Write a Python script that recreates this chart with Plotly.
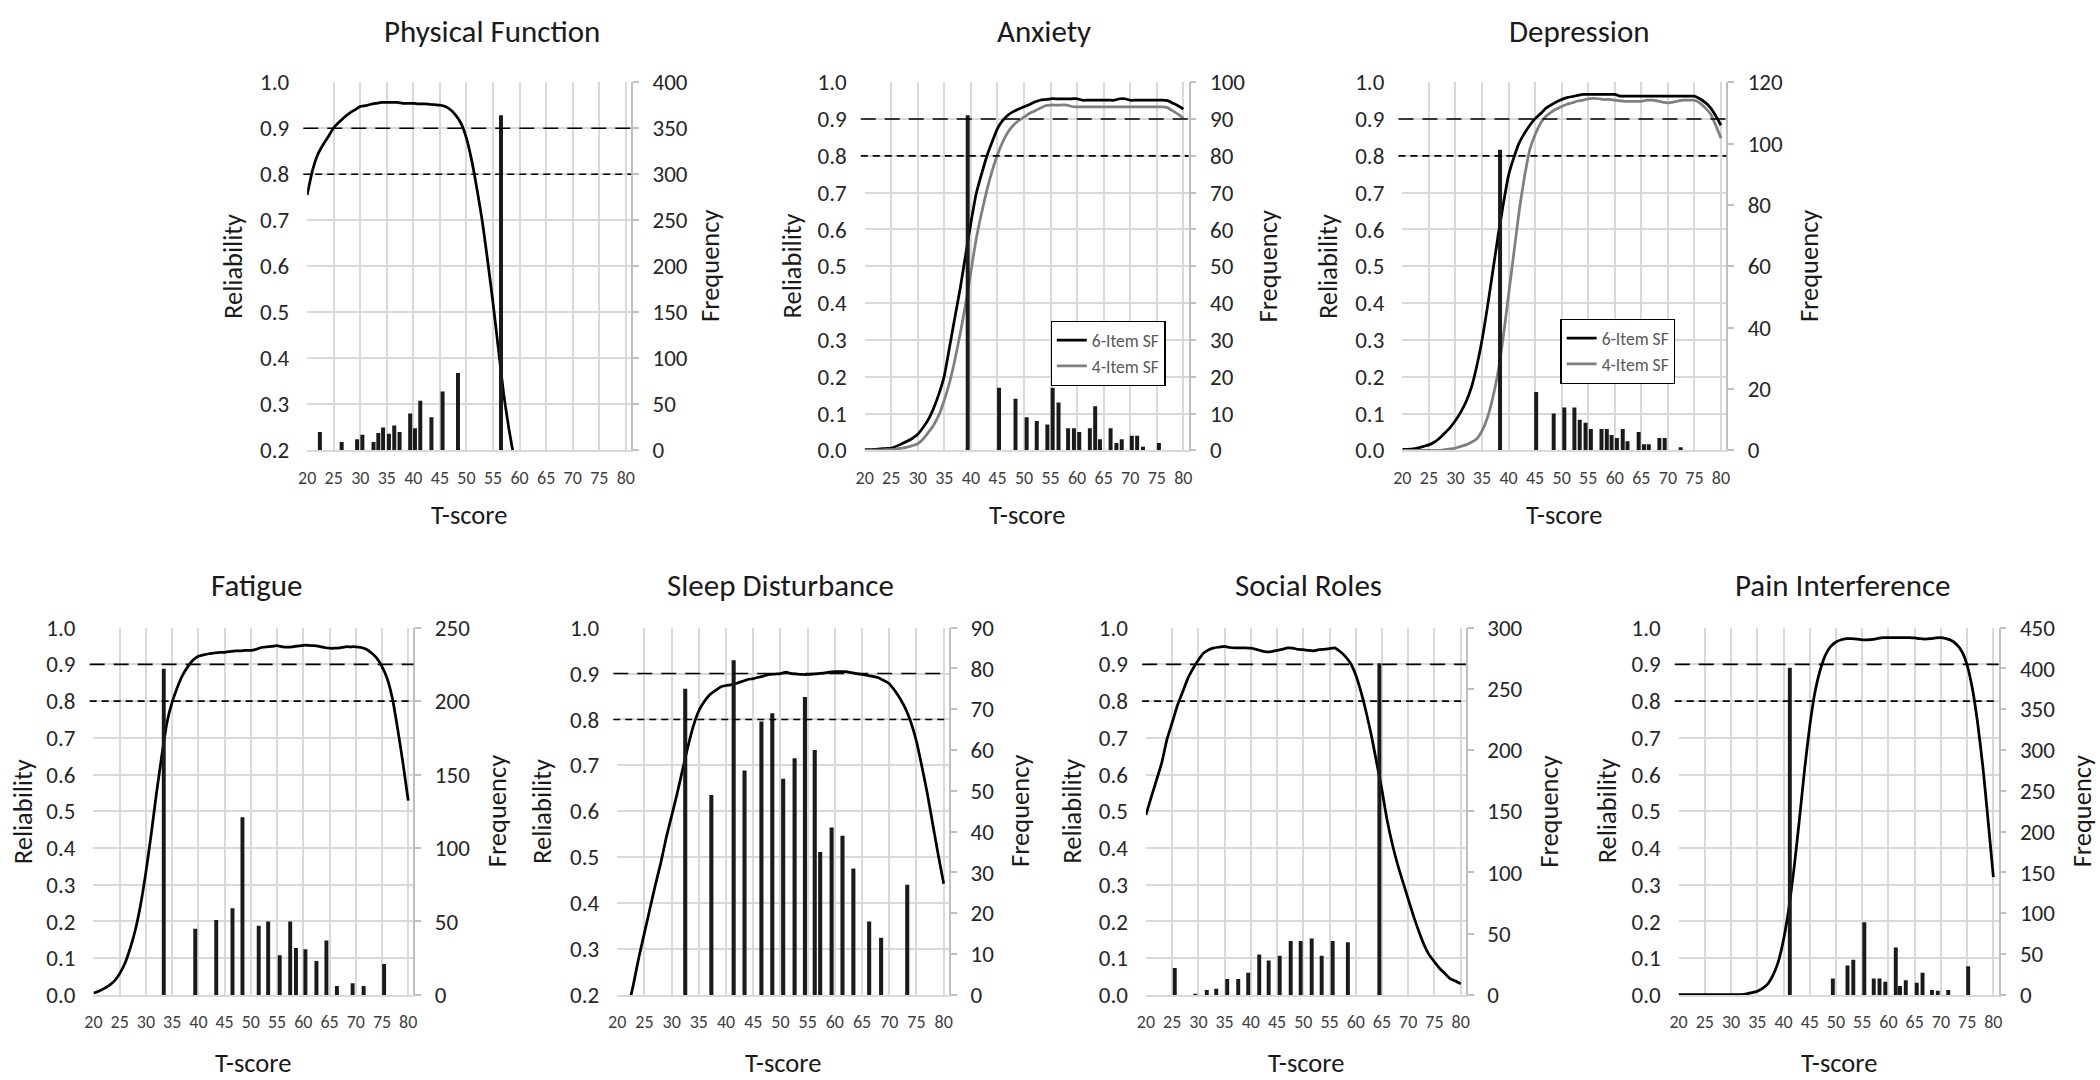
import plotly.graph_objects as go

FONT = "Carlito, Calibri, Lato, sans-serif"
W, H = 2100, 1080

# ---------------- data ----------------
T_TICKS = [20, 25, 30, 35, 40, 45, 50, 55, 60, 65, 70, 75, 80]
THRESHOLDS = [0.9, 0.8]

# Physical Function
PF_T = list(range(20, 60))
PF_REL = [0.755, 0.808, 0.843, 0.864, 0.882, 0.901, 0.913, 0.924, 0.933, 0.940,
          0.947, 0.949, 0.952, 0.954, 0.956, 0.956, 0.956, 0.956, 0.954, 0.954,
          0.954, 0.953, 0.953, 0.952, 0.951, 0.950, 0.947, 0.940, 0.928, 0.910,
          0.878, 0.829, 0.766, 0.696, 0.611, 0.520, 0.421, 0.323, 0.246, 0.180]
PF_BAR_T = [22.4, 26.5, 29.4, 30.4, 32.5, 33.4, 34.3, 35.4, 36.4, 37.4, 39.4, 40.3,
            41.3, 43.4, 45.5, 48.4, 56.5]
PF_BAR_N = [20, 9, 12, 17, 9, 19, 25, 18, 27, 20, 40, 24, 54, 36, 64, 84, 364]

# Anxiety
ANX_T = list(range(20, 81))
ANX_REL6 = [0.002, 0.002, 0.003, 0.004, 0.005, 0.006, 0.011, 0.018, 0.025, 0.033,
            0.044, 0.062, 0.084, 0.115, 0.154, 0.203, 0.282, 0.362, 0.441, 0.530,
            0.618, 0.697, 0.750, 0.799, 0.838, 0.874, 0.896, 0.911, 0.920, 0.927,
            0.933, 0.939, 0.946, 0.951, 0.953, 0.955, 0.955, 0.955, 0.955, 0.955,
            0.955, 0.951, 0.951, 0.951, 0.951, 0.951, 0.951, 0.951, 0.955, 0.955,
            0.951, 0.951, 0.951, 0.951, 0.951, 0.951, 0.951, 0.950, 0.943, 0.936,
            0.927]
ANX_REL4 = [0.000, 0.000, 0.001, 0.001, 0.002, 0.002, 0.004, 0.006, 0.009, 0.013,
            0.018, 0.031, 0.049, 0.069, 0.097, 0.137, 0.185, 0.247, 0.318, 0.397,
            0.485, 0.574, 0.644, 0.706, 0.759, 0.803, 0.838, 0.865, 0.883, 0.896,
            0.905, 0.915, 0.922, 0.929, 0.936, 0.938, 0.938, 0.938, 0.938, 0.934,
            0.933, 0.933, 0.933, 0.933, 0.933, 0.933, 0.933, 0.933, 0.933, 0.933,
            0.933, 0.933, 0.933, 0.933, 0.933, 0.933, 0.933, 0.931, 0.922, 0.913,
            0.902]
ANX_BAR_T = [39.4, 45.3, 48.4, 50.5, 52.4, 54.4, 55.4, 56.5, 58.3, 59.4, 60.4, 62.4,
             63.4, 64.3, 66.3, 67.4, 68.4, 70.3, 71.3, 72.4, 75.4]
ANX_BAR_N = [91, 17, 14, 9, 8, 7, 17, 13, 6, 6, 5, 6, 12, 3, 6, 2, 3, 4, 4, 1, 2]

# Depression
DEP_T = list(range(20, 81))
DEP_REL6 = [0.003, 0.003, 0.004, 0.007, 0.011, 0.015, 0.022, 0.033, 0.047, 0.062,
            0.081, 0.104, 0.132, 0.171, 0.228, 0.299, 0.387, 0.483, 0.580, 0.668,
            0.747, 0.795, 0.835, 0.861, 0.883, 0.901, 0.914, 0.929, 0.938, 0.946,
            0.953, 0.958, 0.961, 0.964, 0.967, 0.967, 0.967, 0.967, 0.967, 0.967,
            0.967, 0.962, 0.962, 0.962, 0.962, 0.962, 0.962, 0.962, 0.962, 0.962,
            0.962, 0.962, 0.962, 0.962, 0.962, 0.962, 0.955, 0.945, 0.931, 0.909,
            0.883]
DEP_REL4 = [0.000, 0.000, 0.000, 0.000, 0.000, 0.000, 0.000, 0.000, 0.002, 0.004,
            0.006, 0.011, 0.015, 0.022, 0.031, 0.053, 0.088, 0.141, 0.211, 0.308,
            0.422, 0.536, 0.650, 0.743, 0.817, 0.857, 0.888, 0.907, 0.918, 0.927,
            0.934, 0.940, 0.944, 0.949, 0.951, 0.955, 0.956, 0.955, 0.953, 0.953,
            0.951, 0.949, 0.948, 0.948, 0.948, 0.948, 0.951, 0.951, 0.949, 0.946,
            0.944, 0.946, 0.949, 0.951, 0.951, 0.951, 0.944, 0.931, 0.914, 0.883,
            0.848]
DEP_BAR_T = [38.4, 45.2, 48.5, 50.5, 52.4, 53.4, 54.5, 55.5, 57.5, 58.5, 59.4, 60.4,
             61.5, 62.4, 64.5, 65.5, 66.4, 68.4, 69.4, 72.4]
DEP_BAR_N = [98, 19, 12, 14, 14, 10, 9, 7, 7, 7, 5, 4, 7, 3, 6, 2, 2, 4, 4, 1]

# Fatigue
FAT_T = list(range(20, 81))
FAT_REL = [0.005, 0.010, 0.017, 0.026, 0.038, 0.058, 0.086, 0.127, 0.178, 0.247,
           0.335, 0.437, 0.548, 0.649, 0.741, 0.797, 0.838, 0.871, 0.894, 0.912,
           0.922, 0.926, 0.929, 0.931, 0.933, 0.933, 0.935, 0.937, 0.937, 0.938,
           0.938, 0.941, 0.946, 0.948, 0.949, 0.951, 0.948, 0.947, 0.948, 0.950,
           0.952, 0.952, 0.951, 0.949, 0.946, 0.944, 0.944, 0.945, 0.948, 0.948,
           0.948, 0.946, 0.941, 0.931, 0.917, 0.894, 0.861, 0.806, 0.723, 0.631,
           0.529]
FAT_BAR_T = [33.4, 39.4, 43.4, 46.5, 48.4, 51.5, 53.3, 55.5, 57.5, 58.6, 60.4, 62.5,
             64.4, 66.4, 69.4, 71.5, 75.4]
FAT_BAR_N = [222, 45, 51, 59, 121, 47, 50, 27, 50, 32, 31, 23, 37, 6, 8, 6, 21]

# Sleep Disturbance
SLP_T = list(range(22, 81))
SLP_REL = [0.170, 0.224, 0.283, 0.335, 0.387, 0.439, 0.487, 0.542, 0.590, 0.638,
           0.690, 0.741, 0.786, 0.819, 0.839, 0.854, 0.863, 0.871, 0.874, 0.876,
           0.879, 0.883, 0.887, 0.889, 0.892, 0.895, 0.898, 0.899, 0.900, 0.903,
           0.900, 0.899, 0.898, 0.898, 0.899, 0.900, 0.901, 0.903, 0.904, 0.904,
           0.904, 0.902, 0.900, 0.898, 0.896, 0.894, 0.891, 0.885, 0.878, 0.863,
           0.845, 0.823, 0.793, 0.752, 0.697, 0.638, 0.571, 0.505, 0.442]
SLP_BAR_T = [32.5, 37.3, 41.4, 43.4, 46.5, 48.5, 50.5, 52.6, 54.5, 56.3, 57.3, 59.4,
             61.4, 63.4, 66.3, 68.5, 73.3]
SLP_BAR_N = [75, 49, 82, 55, 67, 69, 53, 58, 73, 60, 35, 41, 39, 31, 18, 14, 27]

# Social Roles
SOC_T = list(range(20, 81))
SOC_REL = [0.490, 0.538, 0.584, 0.631, 0.695, 0.741, 0.788, 0.825, 0.862, 0.889,
           0.912, 0.931, 0.940, 0.945, 0.947, 0.949, 0.946, 0.945, 0.945, 0.945,
           0.944, 0.941, 0.937, 0.934, 0.935, 0.938, 0.941, 0.945, 0.944, 0.941,
           0.940, 0.938, 0.937, 0.940, 0.941, 0.943, 0.945, 0.935, 0.922, 0.903,
           0.871, 0.825, 0.769, 0.705, 0.631, 0.557, 0.474, 0.409, 0.354, 0.307,
           0.261, 0.215, 0.174, 0.137, 0.109, 0.090, 0.072, 0.058, 0.044, 0.038,
           0.030]
SOC_BAR_T = [25.5, 29.4, 31.6, 33.4, 35.5, 37.6, 39.5, 41.6, 43.4, 45.5, 47.6, 49.5,
             51.6, 53.5, 55.6, 58.5, 64.5]
SOC_BAR_N = [22, 1, 4, 5, 13, 13, 18, 33, 28, 32, 44, 44, 46, 32, 44, 43, 271]

# Pain Interference
PAIN_T = list(range(20, 81))
PAIN_REL = [0.001, 0.001, 0.001, 0.001, 0.001, 0.001, 0.001, 0.001, 0.001, 0.001,
            0.001, 0.001, 0.001, 0.003, 0.006, 0.010, 0.018, 0.030, 0.054, 0.090,
            0.150, 0.234, 0.344, 0.474, 0.612, 0.732, 0.825, 0.885, 0.926, 0.949,
            0.961, 0.967, 0.970, 0.970, 0.969, 0.967, 0.967, 0.968, 0.971, 0.973,
            0.973, 0.973, 0.973, 0.973, 0.973, 0.972, 0.970, 0.969, 0.970, 0.972,
            0.973, 0.970, 0.965, 0.954, 0.935, 0.898, 0.834, 0.741, 0.621, 0.474,
            0.321]
PAIN_BAR_T = [41.2, 49.4, 52.2, 53.3, 55.4, 57.2, 58.3, 59.4, 61.4, 62.2, 63.3, 65.4,
              66.5, 68.3, 69.4, 71.4, 75.2]
PAIN_BAR_N = [401, 20, 36, 43, 89, 20, 20, 16, 58, 11, 18, 15, 27, 6, 5, 6, 35]

# ---------------- panel setup (layout in px) ----------------
BLACK = "#000000"
GRAY = "#7f7f7f"
panels = [
    dict(title="Physical Function", box=(300, 70, 626, 448), rmin=0.2, fmax=400, fstep=50,
         curves=[(PF_T, PF_REL, BLACK, None)], bars=(PF_BAR_T, PF_BAR_N),
         title_xy=(486, 17), rel_x=226, freq_x=706, legend=None, ts_dy=66),
    dict(title="Anxiety", box=(861, 70, 1187, 448), rmin=0.0, fmax=100, fstep=10,
         curves=[(ANX_T, ANX_REL6, BLACK, "6-Item SF"), (ANX_T, ANX_REL4, GRAY, "4-Item SF")],
         bars=(ANX_BAR_T, ANX_BAR_N),
         title_xy=(1041, 17), rel_x=788, freq_x=1267, legend=("legend", 1048, 315), ts_dy=66),
    dict(title="Depression", box=(1402, 70, 1728, 448), rmin=0.0, fmax=120, fstep=20,
         curves=[(DEP_T, DEP_REL6, BLACK, "6-Item SF"), (DEP_T, DEP_REL4, GRAY, "4-Item SF")],
         bars=(DEP_BAR_T, DEP_BAR_N),
         title_xy=(1580, 17), rel_x=1327, freq_x=1811, legend=("legend2", 1561, 313), ts_dy=66),
    dict(title="Fatigue", box=(85, 630, 407, 1007), rmin=0.0, fmax=250, fstep=50,
         curves=[(FAT_T, FAT_REL, BLACK, None)], bars=(FAT_BAR_T, FAT_BAR_N),
         title_xy=(250, 586), rel_x=14, freq_x=491, legend=None, ts_dy=70),
    dict(title="Sleep Disturbance", box=(612, 630, 946, 1007), rmin=0.2, fmax=90, fstep=10,
         curves=[(SLP_T, SLP_REL, BLACK, None)], bars=(SLP_BAR_T, SLP_BAR_N),
         title_xy=(776, 586), rel_x=537, freq_x=1018, legend=None, ts_dy=70),
    dict(title="Social Roles", box=(1144, 630, 1466, 1007), rmin=0.0, fmax=300, fstep=50,
         curves=[(SOC_T, SOC_REL, BLACK, None)], bars=(SOC_BAR_T, SOC_BAR_N),
         title_xy=(1308, 586), rel_x=1070, freq_x=1550, legend=None, ts_dy=70),
    dict(title="Pain Interference", box=(1680, 630, 2002, 1007), rmin=0.0, fmax=450, fstep=50,
         curves=[(PAIN_T, PAIN_REL, BLACK, None)], bars=(PAIN_BAR_T, PAIN_BAR_N),
         title_xy=(1845, 586), rel_x=1608, freq_x=2086, legend=None, ts_dy=70),
]

TITLE_SIZE = 31
AXTITLE_SIZE = 26.5
YTICK_SIZE = 23
XTICK_SIZE = 18
LEGEND_SIZE = 17.5


def aid(prefix, n):
    return prefix if n == 1 else f"{prefix}{n}"


def akey(prefix, n):
    return f"{prefix}axis" if n == 1 else f"{prefix}axis{n}"


def px(x):
    return x / W


def py(y):
    return 1 - y / H


fig = go.Figure()
layout = dict(
    width=W, height=H, autosize=False,
    margin=dict(l=0, r=0, t=0, b=0),
    paper_bgcolor="white", plot_bgcolor="white",
    barmode="overlay",
    font=dict(family=FONT, color="#262626"),
    annotations=[], shapes=[],
)

GRID = "#d9d9d9"
for i, p in enumerate(panels, start=1):
    xi = i
    yl = 2 * i - 1
    yr = 2 * i
    x0, y0, x1, y1 = p["box"]
    layout[akey("x", xi)] = dict(
        domain=[px(x0), px(x1)], anchor=aid("y", yl), range=[20, 81],
        tickmode="array", tickvals=T_TICKS, ticktext=[str(t) for t in T_TICKS],
        showgrid=True, gridcolor=GRID, gridwidth=1.5, zeroline=False,
        showline=True, linecolor=GRID, linewidth=1.5, ticks="",
        tickfont=dict(family=FONT, size=XTICK_SIZE, color="#404040"), ticklabelstandoff=10,
        fixedrange=True,
    )
    rt = [round(p["rmin"] + 0.1 * k, 1) for k in range(int(round((1.0 - p["rmin"]) / 0.1)) + 1)]
    layout[akey("y", yl)] = dict(
        domain=[py(y1), py(y0)], anchor=aid("x", xi), range=[p["rmin"], 1.0],
        tickmode="array", tickvals=rt, ticktext=[f"{v:.1f}" for v in rt],
        showgrid=True, gridcolor=GRID, gridwidth=1.5, zeroline=False, showline=False,
        ticks="", tickfont=dict(family=FONT, size=YTICK_SIZE, color="#262626"),
        ticklabelstandoff=17, fixedrange=True,
    )
    ft = list(range(0, p["fmax"] + 1, p["fstep"]))
    layout[akey("y", yr)] = dict(
        overlaying=aid("y", yl), side="right", anchor=aid("x", xi),
        range=[0, p["fmax"]], tickmode="array", tickvals=ft, ticktext=[str(v) for v in ft],
        showgrid=False, zeroline=False, showline=True, linecolor="#bfbfbf", linewidth=1.5,
        ticks="outside", ticklen=6, tickcolor="#bfbfbf", tickwidth=1.5,
        tickfont=dict(family=FONT, size=YTICK_SIZE, color="#262626"), ticklabelstandoff=9,
        fixedrange=True,
    )
    bt, bn = p["bars"]
    fig.add_trace(go.Bar(x=bt, y=bn, width=0.75, marker=dict(color="#1a1a1a", line=dict(width=0)),
                         xaxis=aid("x", xi), yaxis=aid("y", yr), showlegend=False,
                         hoverinfo="skip"))
    for (ct, cv, col, name) in p["curves"]:
        tr = dict(x=ct, y=cv, mode="lines",
                  line=dict(color=col, width=2.75, shape="spline", smoothing=0.5),
                  xaxis=aid("x", xi), yaxis=aid("y", yl), hoverinfo="skip")
        if name and p["legend"]:
            tr.update(name=name, showlegend=True, legend=p["legend"][0])
        else:
            tr.update(showlegend=False)
        fig.add_trace(go.Scatter(**tr))
    for th, dash in zip(THRESHOLDS, ["15px,9px", "7px,5px"]):
        layout["shapes"].append(dict(
            type="line", xref=f"{aid('x', xi)} domain", x0=-0.012, x1=1.0,
            yref=aid("y", yl), y0=th, y1=th,
            line=dict(color="black", width=1.6, dash=dash), layer="above"))
    tx, ty = p["title_xy"]
    layout["annotations"].append(dict(
        text=p["title"], x=px(tx), y=py(ty), xref="paper", yref="paper",
        xanchor="center", yanchor="middle", showarrow=False,
        font=dict(family=FONT, size=TITLE_SIZE, color="#1a1a1a")))
    ymid = (y0 + y1) / 2
    layout["annotations"].append(dict(
        text="Reliability", x=px(p["rel_x"]), y=py(ymid), xref="paper", yref="paper",
        xanchor="center", yanchor="middle", textangle=-90, showarrow=False,
        font=dict(family=FONT, size=AXTITLE_SIZE, color="#1a1a1a")))
    layout["annotations"].append(dict(
        text="Frequency", x=px(p["freq_x"]), y=py(ymid), xref="paper", yref="paper",
        xanchor="center", yanchor="middle", textangle=-90, showarrow=False,
        font=dict(family=FONT, size=AXTITLE_SIZE, color="#1a1a1a")))
    layout["annotations"].append(dict(
        text="T-score", x=px((x0 + x1) / 2), y=py(y1 + p["ts_dy"]), xref="paper", yref="paper",
        xanchor="center", yanchor="middle", showarrow=False,
        font=dict(family=FONT, size=AXTITLE_SIZE, color="#1a1a1a")))
    if p["legend"]:
        lname, lx, ly = p["legend"]
        layout[lname] = dict(
            x=px(lx), y=py(ly), xanchor="left", yanchor="top",
            bgcolor="white", bordercolor="black", borderwidth=1.3,
            font=dict(family=FONT, size=LEGEND_SIZE, color="#595959"),
            tracegroupgap=0, traceorder="normal")

fig.update_layout(**layout)
fig.write_html("out.html", config={"displayModeBar": False},
               post_script="document.body.style.margin='0';")
